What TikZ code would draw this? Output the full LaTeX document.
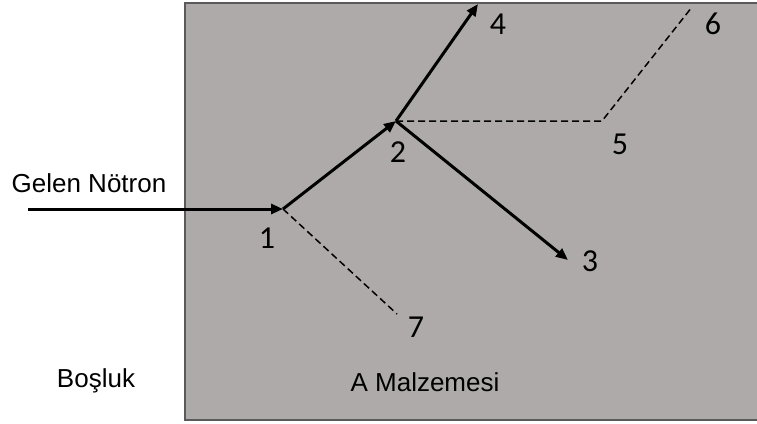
\documentclass[tikz,border=0pt]{standalone}
\usepackage{fontspec}
\setmainfont{Liberation Sans}
\newfontfamily\numfont{Carlito}
\usetikzlibrary{arrows.meta}
\definecolor{matgray}{HTML}{AEAAA9}
\definecolor{edgegray}{HTML}{5A5A5A}
\tikzset{
  track/.style={line width=3pt,-{Triangle[length=12pt,width=10pt]}},
  ghost/.style={line width=1.5pt,dash pattern=on 7pt off 4pt},
  numlbl/.style={font=\numfont\fontsize{32}{36}\selectfont,inner sep=0pt},
  txtlbl/.style={font=\fontsize{26}{30}\selectfont,inner sep=0pt}
}
\begin{document}
\begin{tikzpicture}[x=1pt,y=-1pt]
\useasboundingbox (0,0) rectangle (757,423);
\fill[white] (0,0) rectangle (757,423);
\draw[edgegray,line width=1.5pt,fill=matgray] (185,3) rectangle (770,420);
% points
\coordinate (s) at (28,209);
\coordinate (p1) at (283,209);
\coordinate (p2) at (396,121);
\coordinate (p3) at (568,260);
\coordinate (p4) at (478,4);
\coordinate (p5) at (602,121);
\coordinate (p6) at (692,7);
\coordinate (p7) at (397,314);
% dashed paths
\draw[ghost] (p2) -- (p5) -- (p6);
\draw[ghost] (p1) -- (p7);
% tracks
\draw[track] (s) -- (p1);
\draw[track] (p1) -- (p2);
\draw[track] (p2) -- (p4);
\draw[track] (p2) -- (p3);
% labels
\node[txtlbl] (gelen) at (89,183) {Gelen Nötron};
\node[txtlbl] (bosluk) at (96,381) {Boşluk};
\node[txtlbl] (malz) at (425,382) {A Malzemesi};
\node[numlbl] (l1) at (267,238) {1};
\node[numlbl] (l2) at (398,152) {2};
\node[numlbl] (l3) at (590,261) {3};
\node[numlbl] (l4) at (498,24) {4};
\node[numlbl] (l5) at (620,144) {5};
\node[numlbl] (l6) at (713,24) {6};
\node[numlbl] (l7) at (416,327) {7};
\end{tikzpicture}
\end{document}
